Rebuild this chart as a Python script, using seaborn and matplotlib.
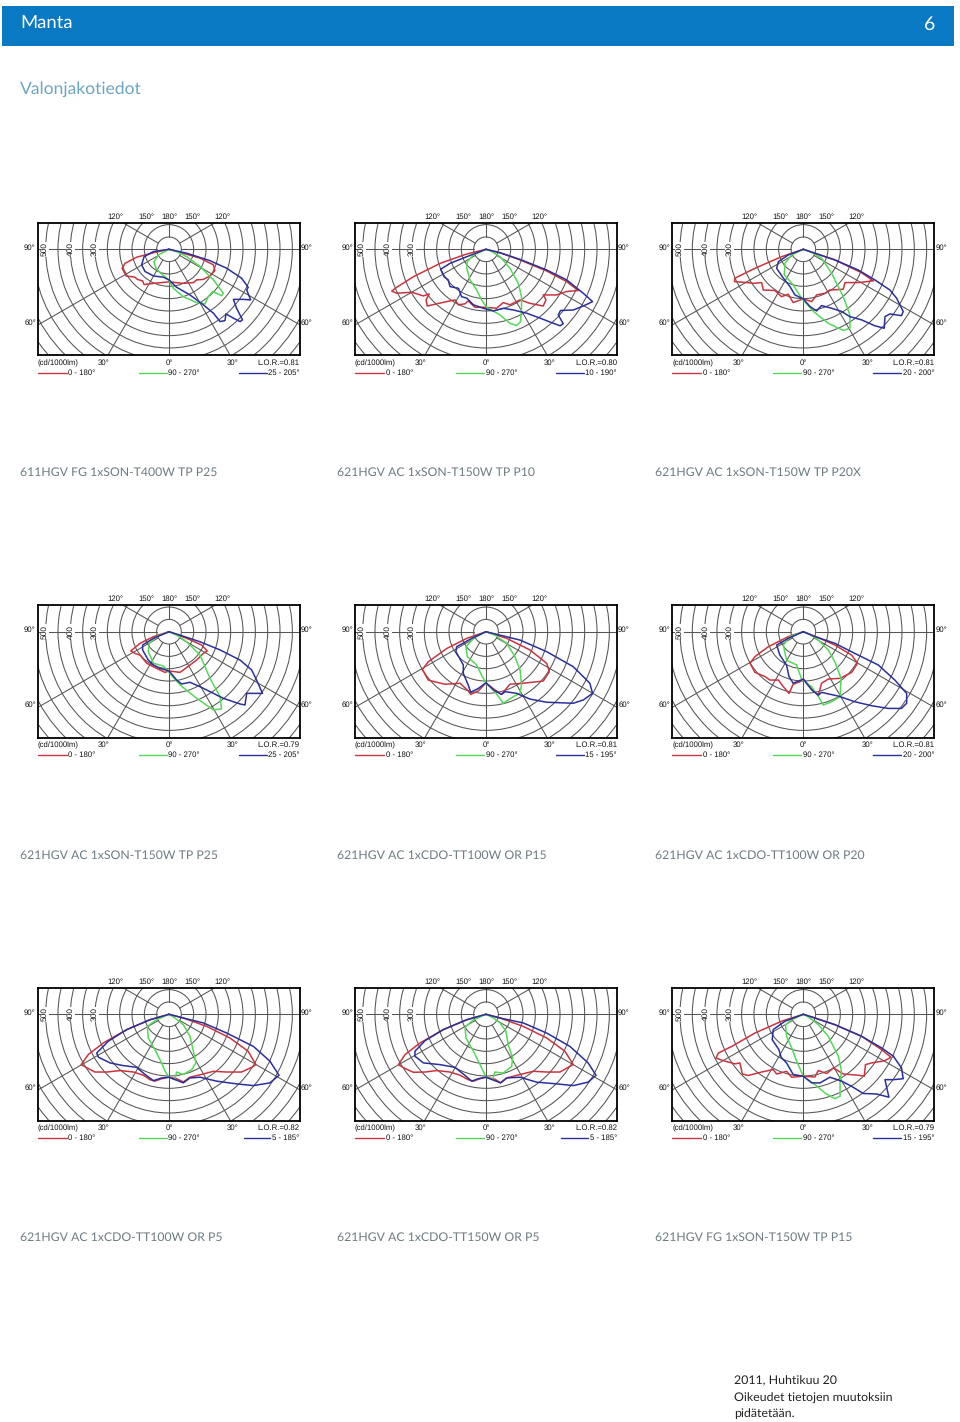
# Light distribution page: 9 polar-style charts laid out by hand on one figure
import numpy as np
import seaborn as sns
import matplotlib.pyplot as plt
from matplotlib.lines import Line2D
from matplotlib.patches import Circle, Rectangle

# Curves: horizontal and vertical intensity parts in cd/1000lm
c1_red_h = [0,-63,-131,-178,-190,-174,-138,-128,-107,-101,-63,0,58,99,112,139,166,186,180,126,58,0]
c1_red_v = [0,-14,-32,-57,-77,-108,-113,-122,-128,-143,-138,-132,-138,-135,-124,-122,-108,-86,-63,-36,-16,0]
c1_green_h = [0,-43,-61,-53,-36,-9,0,18,58,112,146,159,177,213,220,180,126,72,31,0]
c1_green_v = [0,-23,-50,-77,-95,-117,-127,-158,-192,-216,-221,-192,-171,-188,-178,-124,-70,-30,-9,0]
c1_blue_h = [0,-63,-101,-111,-97,-63,-23,0,31,85,139,180,207,227,231,261,288,298,274,261,301,331,315,321,294,234,166,72,0]
c1_blue_v = [0,-9,-30,-63,-90,-108,-113,-124,-154,-185,-225,-259,-293,-289,-262,-279,-293,-286,-239,-203,-203,-205,-165,-154,-117,-77,-46,-16,0]

c2_red_h = [0,-78,-186,-294,-362,-382,-362,-301,-254,-230,-243,-238,-200,-159,-126,-112,-85,-72,-45,0,43,70,97,138,178,232,243,232,286,327,374,327,246,138,57,0]
c2_red_v = [0,-19,-57,-111,-154,-169,-178,-174,-189,-181,-205,-230,-221,-212,-205,-225,-221,-209,-235,-235,-239,-216,-225,-205,-219,-230,-205,-185,-185,-171,-167,-131,-88,-43,-14,0]
c2_green_h = [0,-51,-76,-78,-65,-38,-18,3,57,97,124,140,144,144,131,97,57,23,0]
c2_green_v = [0,-23,-50,-77,-124,-165,-205,-235,-266,-300,-309,-293,-239,-192,-138,-77,-30,-9,0]
c2_blue_h = [0,-78,-146,-184,-170,-153,-146,-112,-99,-78,-51,-11,30,70,111,165,219,273,300,313,293,302,354,394,432,394,327,246,138,57,0]
c2_blue_v = [0,-30,-57,-81,-111,-124,-151,-158,-192,-198,-225,-239,-250,-239,-246,-259,-279,-300,-310,-302,-266,-248,-246,-230,-212,-178,-124,-84,-41,-14,0]

c3_red_h = [0,-88,-196,-277,-279,-236,-203,-169,-162,-115,-88,-61,-41,0,34,54,88,108,162,169,223,284,236,128,47,0]
c3_red_v = [0,-30,-77,-117,-131,-134,-138,-135,-165,-167,-192,-182,-216,-201,-212,-185,-178,-165,-162,-135,-135,-128,-95,-43,-16,0]
c3_green_h = [0,-47,-74,-77,-41,-7,41,101,162,189,189,162,115,74,27,0]
c3_green_v = [0,-23,-57,-104,-144,-198,-252,-300,-329,-320,-266,-192,-97,-36,-9,0]
c3_blue_h = [0,-61,-101,-108,-81,-54,-34,0,27,54,74,115,155,189,236,290,328,331,351,398,405,378,351,290,223,128,47,0]
c3_blue_v = [0,-23,-50,-77,-117,-151,-185,-201,-232,-250,-228,-239,-252,-273,-286,-310,-320,-273,-262,-269,-252,-198,-165,-124,-84,-43,-16,0]

c4_red_h = [0,-63,-117,-155,-138,-117,-90,-50,-16,0,45,85,112,139,155,132,72,0]
c4_red_v = [0,-20,-47,-78,-88,-95,-128,-149,-165,-159,-165,-135,-115,-88,-78,-54,-27,0]
c4_green_h = [0,-50,-80,-84,-63,-23,0,45,112,180,213,207,166,126,72,31,0]
c4_green_v = [0,-20,-47,-81,-128,-139,-165,-216,-270,-317,-313,-263,-189,-95,-41,-14,0]
c4_blue_h = [0,-63,-107,-107,-84,-63,-36,0,31,51,85,126,166,220,288,308,315,379,355,335,288,207,126,45,0]
c4_blue_v = [0,-27,-54,-74,-115,-135,-149,-159,-196,-212,-205,-223,-243,-270,-293,-297,-250,-250,-196,-155,-115,-74,-41,-14,0]

c5_red_h = [0,-78,-159,-234,-258,-234,-200,-166,-105,-72,-62,-31,0,36,63,97,151,232,257,246,178,84,0]
c5_red_v = [0,-27,-68,-122,-153,-196,-205,-213,-209,-240,-254,-240,-207,-236,-254,-213,-209,-200,-162,-128,-74,-27,0]
c5_green_h = [0,-51,-81,-76,-38,-18,0,36,70,111,138,144,138,117,84,36,0]
c5_green_v = [0,-27,-61,-101,-135,-176,-209,-243,-290,-263,-250,-216,-155,-101,-47,-14,0]
c5_blue_h = [0,-58,-119,-122,-92,-92,-72,-62,-31,0,30,63,77,124,178,246,354,394,432,421,354,246,138,57,0]
c5_blue_v = [0,-27,-61,-81,-135,-169,-216,-246,-230,-207,-236,-254,-243,-250,-273,-286,-290,-277,-250,-209,-142,-81,-34,-14,0]

c6_red_h = [0,-61,-142,-196,-216,-196,-155,-135,-101,-81,-58,-41,-14,0,34,61,74,101,149,196,220,196,128,61,0]
c6_red_v = [0,-20,-61,-101,-128,-165,-182,-196,-196,-223,-250,-213,-203,-192,-232,-257,-209,-192,-189,-165,-128,-95,-54,-24,0]
c6_green_h = [0,-54,-81,-68,-27,-7,34,61,81,115,149,153,128,101,61,27,0]
c6_green_v = [0,-20,-54,-115,-135,-192,-223,-263,-297,-284,-263,-189,-122,-74,-34,-11,0]
c6_blue_h = [0,-61,-108,-95,-68,-58,-41,0,34,61,74,142,209,277,344,398,419,419,371,304,209,128,47,0]
c6_blue_v = [0,-27,-54,-95,-135,-182,-209,-192,-236,-257,-246,-261,-284,-300,-311,-311,-290,-250,-196,-135,-88,-47,-20,0]

c7_red_h = [0,-77,-171,-266,-327,-356,-333,-300,-252,-198,-144,-104,-77,-57,-30,0,31,58,85,139,180,234,294,335,352,321,247,153,58,0]
c7_red_v = [0,-22,-62,-116,-163,-204,-217,-234,-234,-228,-234,-247,-265,-271,-261,-255,-261,-274,-255,-242,-231,-234,-234,-215,-204,-150,-96,-49,-15,0]
c7_green_h = [0,-50,-88,-84,-57,-30,-16,0,24,31,58,92,109,99,85,58,24,0]
c7_green_v = [0,-22,-49,-96,-143,-197,-231,-255,-265,-234,-244,-224,-197,-150,-89,-42,-15,0]
c7_blue_h = [0,-77,-171,-246,-293,-286,-239,-185,-131,-97,-63,-30,0,58,85,126,193,274,342,409,446,409,342,234,139,58,0]
c7_blue_v = [0,-22,-62,-109,-157,-174,-197,-208,-215,-244,-269,-258,-255,-278,-258,-255,-271,-282,-289,-278,-247,-190,-130,-76,-35,-15,0]

c8_red_h = [0,-78,-173,-267,-328,-355,-328,-294,-247,-200,-146,-105,-72,-51,-24,0,36,59,84,138,192,246,300,333,354,320,246,151,57,0]
c8_red_v = [0,-22,-62,-116,-163,-204,-220,-235,-234,-228,-234,-247,-265,-271,-261,-255,-263,-278,-258,-244,-231,-234,-234,-215,-204,-150,-96,-49,-15,0]
c8_green_h = [0,-51,-85,-81,-51,-24,0,27,36,70,104,108,90,81,57,30,0]
c8_green_v = [0,-22,-53,-96,-150,-204,-255,-265,-234,-238,-211,-177,-123,-69,-35,-15,0]
c8_blue_h = [0,-78,-173,-247,-288,-288,-254,-186,-126,-92,-58,-31,0,59,84,138,205,286,354,414,446,414,340,246,151,57,0]
c8_blue_v = [0,-22,-62,-107,-150,-170,-197,-204,-215,-242,-271,-261,-255,-278,-258,-255,-275,-282,-289,-275,-247,-197,-130,-76,-35,-15,0]

c9_red_h = [0,-88,-196,-290,-344,-354,-324,-277,-257,-247,-223,-169,-122,-108,-68,-47,0,47,61,95,122,162,223,247,252,277,331,355,317,236,128,47,0]
c9_red_v = [0,-28,-76,-130,-157,-177,-188,-201,-197,-242,-248,-234,-224,-242,-231,-255,-251,-254,-228,-240,-217,-242,-247,-251,-204,-197,-188,-174,-143,-89,-42,-15,0]
c9_green_h = [0,-47,-72,-68,-47,-27,0,47,88,128,149,149,155,142,101,61,27,0]
c9_green_v = [0,-22,-42,-89,-136,-190,-251,-285,-319,-342,-332,-271,-231,-170,-89,-42,-15,0]
c9_blue_h = [0,-74,-122,-126,-99,-90,-68,-41,0,34,68,108,155,196,243,297,347,331,365,405,398,365,317,236,128,47,0]
c9_blue_v = [0,-28,-62,-103,-143,-174,-197,-244,-251,-278,-278,-255,-271,-292,-321,-323,-336,-265,-265,-261,-217,-170,-136,-89,-42,-15,0]

titles = ["611HGV FG 1xSON-T400W TP P25", "621HGV AC 1xSON-T150W TP P10", "621HGV AC 1xSON-T150W TP P20X",
          "621HGV AC 1xSON-T150W TP P25", "621HGV AC 1xCDO-TT100W OR P15", "621HGV AC 1xCDO-TT100W OR P20",
          "621HGV AC 1xCDO-TT100W OR P5", "621HGV AC 1xCDO-TT150W OR P5", "621HGV FG 1xSON-T150W TP P15"]
lor = ["0.81", "0.80", "0.81", "0.79", "0.81", "0.81", "0.82", "0.82", "0.79"]
blue_planes = ["25 - 205°", "10 - 190°", "20 - 200°", "25 - 205°", "15 - 195°", "20 - 200°", "5 - 185°", "5 - 185°", "15 - 195°"]
red_curves = [(c1_red_h, c1_red_v), (c2_red_h, c2_red_v), (c3_red_h, c3_red_v), (c4_red_h, c4_red_v), (c5_red_h, c5_red_v),
              (c6_red_h, c6_red_v), (c7_red_h, c7_red_v), (c8_red_h, c8_red_v), (c9_red_h, c9_red_v)]
green_curves = [(c1_green_h, c1_green_v), (c2_green_h, c2_green_v), (c3_green_h, c3_green_v), (c4_green_h, c4_green_v), (c5_green_h, c5_green_v),
                (c6_green_h, c6_green_v), (c7_green_h, c7_green_v), (c8_green_h, c8_green_v), (c9_green_h, c9_green_v)]
blue_curves = [(c1_blue_h, c1_blue_v), (c2_blue_h, c2_blue_v), (c3_blue_h, c3_blue_v), (c4_blue_h, c4_blue_v), (c5_blue_h, c5_blue_v),
               (c6_blue_h, c6_blue_v), (c7_blue_h, c7_blue_v), (c8_blue_h, c8_blue_v), (c9_blue_h, c9_blue_v)]

RED = "#c9343f"
GREEN = "#55d85a"
BLUE = "#2b2f9c"
W, H = 960, 1422
SCALE = 0.2467  # pixels per cd
col_left = [37.5, 355.0, 672.3]
col_center = [169.0, 486.0, 803.3]
row_top = [222.7, 605.0, 988.0]
row_center = [249.3, 631.7, 1014.3]
title_x = [20, 337, 655]
title_y = [473, 856, 1238]
FRAME_W, FRAME_H = 262, 132.5
spoke_angles = [0, 30, 60, 90, 120, 180, 240, 270, 300, 330]

sns.set_style("white")
plt.rcParams["font.family"] = ["Liberation Sans", "DejaVu Sans"]
plt.rcParams["text.hinting"] = "none"
fig = plt.figure(figsize=(W / 100, H / 100), dpi=100)


def ptext(x, y, s, **kw):
    kw.setdefault("va", "center")
    return fig.text(x / W, 1 - y / H, s, **kw)


def pline(x0, x1, y, color):
    fig.add_artist(Line2D([x0 / W, x1 / W], [1 - y / H, 1 - y / H], color=color, lw=1.0))


# page header
fig.add_artist(Rectangle((2 / W, 1 - 46 / H), 952 / W, 40 / H, transform=fig.transFigure, color="#0a79c4", lw=0))
ptext(20, 24, "Manta", color="white", fontsize=13.3, family="Lato")
ptext(930, 24, "6", color="white", fontsize=14, family="Lato", ha="center")
ptext(20, 89, "Valonjakotiedot", color="#6ba7c1", fontsize=12.6, family="Lato")

for i in range(9):
    row, col = divmod(i, 3)
    L, T = col_left[col], row_top[row]
    cx, cy = col_center[col], row_center[row]
    R, B = L + FRAME_W, T + FRAME_H
    ax = fig.add_axes([L / W, 1 - B / H, FRAME_W / W, FRAME_H / H])
    ax.set_xlim((L - cx) / SCALE, (R - cx) / SCALE)
    ax.set_ylim((cy - B) / SCALE, (cy - T) / SCALE)

    # rings every 50 cd, spokes from the first ring out
    for r in np.arange(50, 750, 50):
        ax.add_patch(Circle((0, 0), r, fill=False, ec="#555555", lw=0.75, zorder=1))
    for a in spoke_angles:
        rad = np.deg2rad(a)
        ax.plot([50 * np.sin(rad), 800 * np.sin(rad)], [-50 * np.cos(rad), -800 * np.cos(rad)],
                color="#555555", lw=0.75, zorder=1)

    for value, off in [("500", -124), ("400", -98), ("300", -74)]:
        ax.text(off / SCALE, 0, value, rotation=90, ha="center", va="center", fontsize=6, color="#111111",
                zorder=2, bbox=dict(fc="white", ec="none", pad=0.4))

    for curves, color in [(red_curves, RED), (green_curves, GREEN), (blue_curves, BLUE)]:
        h, v = curves[i]
        sns.lineplot(x=h, y=v, sort=False, estimator=None, color=color, lw=1.1, ax=ax, legend=False, zorder=3)

    ax.set_xticks([])
    ax.set_yticks([])
    for spine in ax.spines.values():
        spine.set_visible(True)
        spine.set_color("black")
        spine.set_linewidth(1.3)

    # labels around the frame
    fs = 5.6
    for off, lab in [(-54, "120°"), (-23, "150°"), (0, "180°"), (23.5, "150°"), (53, "120°")]:
        ptext(cx + off, T - 6, lab, fontsize=fs, ha="center", color="#111111")
    for yy, lab in [(cy - 1.5, "90°"), (cy + 73.5, "60°")]:
        ptext(L - 7.5, yy, lab, fontsize=fs, ha="center", color="#111111")
        ptext(R + 7, yy, lab, fontsize=fs, ha="center", color="#111111")
    ptext(L, B + 7.7, "(cd/1000lm)", fontsize=fs, color="#111111")
    ptext(cx - 65, B + 7.7, "30°", fontsize=fs, ha="center", color="#111111")
    ptext(cx, B + 7.7, "0°", fontsize=fs, ha="center", color="#111111")
    ptext(cx + 64, B + 7.7, "30°", fontsize=fs, ha="center", color="#111111")
    ptext(R, B + 7.7, "L.O.R.=" + lor[i], fontsize=fs, ha="right", color="#111111")

    # legend row
    pline(L, L + 29, B + 17.5, RED)
    ptext(L + 30.5, B + 17.8, "0 - 180°", fontsize=fs, color="#111111")
    pline(L + 101, L + 129, B + 17.5, GREEN)
    ptext(L + 131, B + 17.8, "90 - 270°", fontsize=fs, color="#111111")
    if len(blue_planes[i]) == 8:
        pline(R - 56, R - 29.5, B + 17.5, BLUE)
    else:
        pline(R - 61, R - 33, B + 17.5, BLUE)
    ptext(R, B + 17.8, blue_planes[i], fontsize=fs, ha="right", color="#111111")

    ptext(title_x[col], title_y[row], titles[i], fontsize=8.8, family="Lato", color="#6d7c82")

ptext(734, 1381, "2011, Huhtikuu 20", fontsize=8.95, family="Lato", color="#222222")
ptext(734, 1398, "Oikeudet tietojen muutoksiin", fontsize=8.95, family="Lato", color="#222222")
ptext(734, 1414, "pidätetään.", fontsize=8.95, family="Lato", color="#222222")

fig.savefig("out.png", dpi=100)
